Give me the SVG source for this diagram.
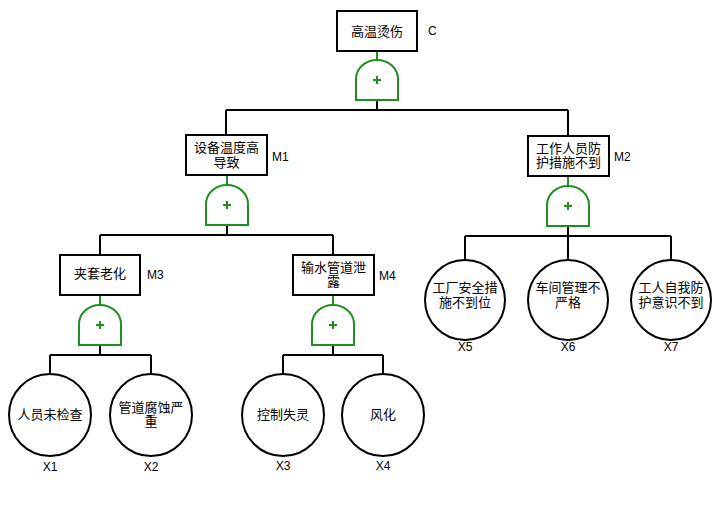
<svg xmlns="http://www.w3.org/2000/svg" width="721" height="515" viewBox="0 0 721 515">
<defs>
<style>
.box{fill:#fff;stroke:#000;stroke-width:2}
.ev{fill:#fff;stroke:#000;stroke-width:2}
.gate{fill:#fff;stroke:#1f8f1f;stroke-width:2}
.plus{stroke:#1f8f1f;stroke-width:2;fill:none}
.gl{stroke:#1f8f1f;stroke-width:2;fill:none}
.ln{stroke:#000;stroke-width:2;fill:none}
.t{font-family:"Liberation Sans","Noto Sans CJK SC",sans-serif;font-size:13px;fill:#000;text-anchor:middle}
.lb{font-family:"Liberation Sans",Arial,sans-serif;font-size:12px;fill:#000}
.lc{font-family:"Liberation Sans",Arial,sans-serif;font-size:12px;fill:#000;text-anchor:middle}
</style>
<path id="g" d="M-21,40 L-21,19 A21,19 0 0 1 21,19 L21,40 Z"/>
</defs>
<rect width="721" height="515" fill="#fff"/>
<g id="connectors">
<path class="gl" d="M377,51 V60"/>
<path class="ln" d="M377,100 V110 M226,110 H568 M226,110 V135 M568,110 V136"/>
<path class="gl" d="M227,175 V185"/>
<path class="ln" d="M227,225 V235 M100,235 H333 M100,235 V255 M333,235 V255"/>
<path class="gl" d="M568,176 V186"/>
<path class="ln" d="M568,226 V236 M465,236 H671 M465,236 V260 M568,236 V260 M671,236 V260"/>
<path class="gl" d="M100,295 V305"/>
<path class="ln" d="M100,345 V355 M50,355 H151 M50,355 V374 M151,355 V374"/>
<path class="gl" d="M333,295 V305"/>
<path class="ln" d="M333,345 V355 M283,355 H383 M283,355 V374 M383,355 V374"/>
</g>
<g id="C">
<rect class="box" x="337" y="11" width="80" height="40"/>
<text class="t" x="377" y="35.5">高温烫伤</text>
<text class="lb" x="428" y="35">C</text>
</g>
<g id="G0"><use href="#g" class="gate" x="377" y="60"/><path class="plus" d="M373,80 H381 M377,76 V84"/></g>
<g id="M1">
<rect class="box" x="186" y="135" width="81" height="40"/>
<text class="t" x="226.5" y="152">设备温度高<tspan x="226.5" dy="14.5">导致</tspan></text>
<text class="lb" x="272" y="161">M1</text>
</g>
<g id="G1"><use href="#g" class="gate" x="227" y="185"/><path class="plus" d="M223,205 H231 M227,201 V209"/></g>
<g id="M2">
<rect class="box" x="528" y="136" width="81" height="40"/>
<text class="t" x="568.5" y="152.5">工作人员防<tspan x="568.5" dy="14.5">护措施不到</tspan></text>
<text class="lb" x="614" y="161">M2</text>
</g>
<g id="G2"><use href="#g" class="gate" x="568" y="186"/><path class="plus" d="M564,206 H572 M568,202 V210"/></g>
<g id="M3">
<rect class="box" x="60" y="255" width="80" height="40"/>
<text class="t" x="100" y="277.5">夹套老化</text>
<text class="lb" x="147" y="279">M3</text>
</g>
<g id="G3"><use href="#g" class="gate" x="100" y="305"/><path class="plus" d="M96,325 H104 M100,321 V329"/></g>
<g id="M4">
<rect class="box" x="293" y="255" width="81" height="40"/>
<text class="t" x="333.5" y="271.5">输水管道泄<tspan x="333.5" dy="14.5">露</tspan></text>
<text class="lb" x="379" y="280">M4</text>
</g>
<g id="G4"><use href="#g" class="gate" x="333" y="305"/><path class="plus" d="M329,325 H337 M333,321 V329"/></g>
<g id="X1">
<circle class="ev" cx="50" cy="415" r="41"/>
<text class="t" x="50" y="418.5">人员未检查</text>
<text class="lc" x="50" y="471">X1</text>
</g>
<g id="X2">
<circle class="ev" cx="151" cy="415" r="41"/>
<text class="t" x="151" y="411.5">管道腐蚀严<tspan x="151" dy="14.5">重</tspan></text>
<text class="lc" x="151" y="471">X2</text>
</g>
<g id="X3">
<circle class="ev" cx="283" cy="415" r="41"/>
<text class="t" x="283" y="418.5">控制失灵</text>
<text class="lc" x="283" y="470">X3</text>
</g>
<g id="X4">
<circle class="ev" cx="383" cy="415" r="41"/>
<text class="t" x="383" y="418.5">风化</text>
<text class="lc" x="383" y="470">X4</text>
</g>
<g id="X5">
<circle class="ev" cx="465" cy="300" r="40"/>
<text class="t" x="465" y="292">工厂安全措<tspan x="465" dy="14.5">施不到位</tspan></text>
<text class="lc" x="465" y="351">X5</text>
</g>
<g id="X6">
<circle class="ev" cx="568" cy="300" r="40"/>
<text class="t" x="568" y="292">车间管理不<tspan x="568" dy="14.5">严格</tspan></text>
<text class="lc" x="568" y="351">X6</text>
</g>
<g id="X7">
<circle class="ev" cx="671" cy="300" r="40"/>
<text class="t" x="671" y="292">工人自我防<tspan x="671" dy="14.5">护意识不到</tspan></text>
<text class="lc" x="671" y="351">X7</text>
</g>
</svg>
